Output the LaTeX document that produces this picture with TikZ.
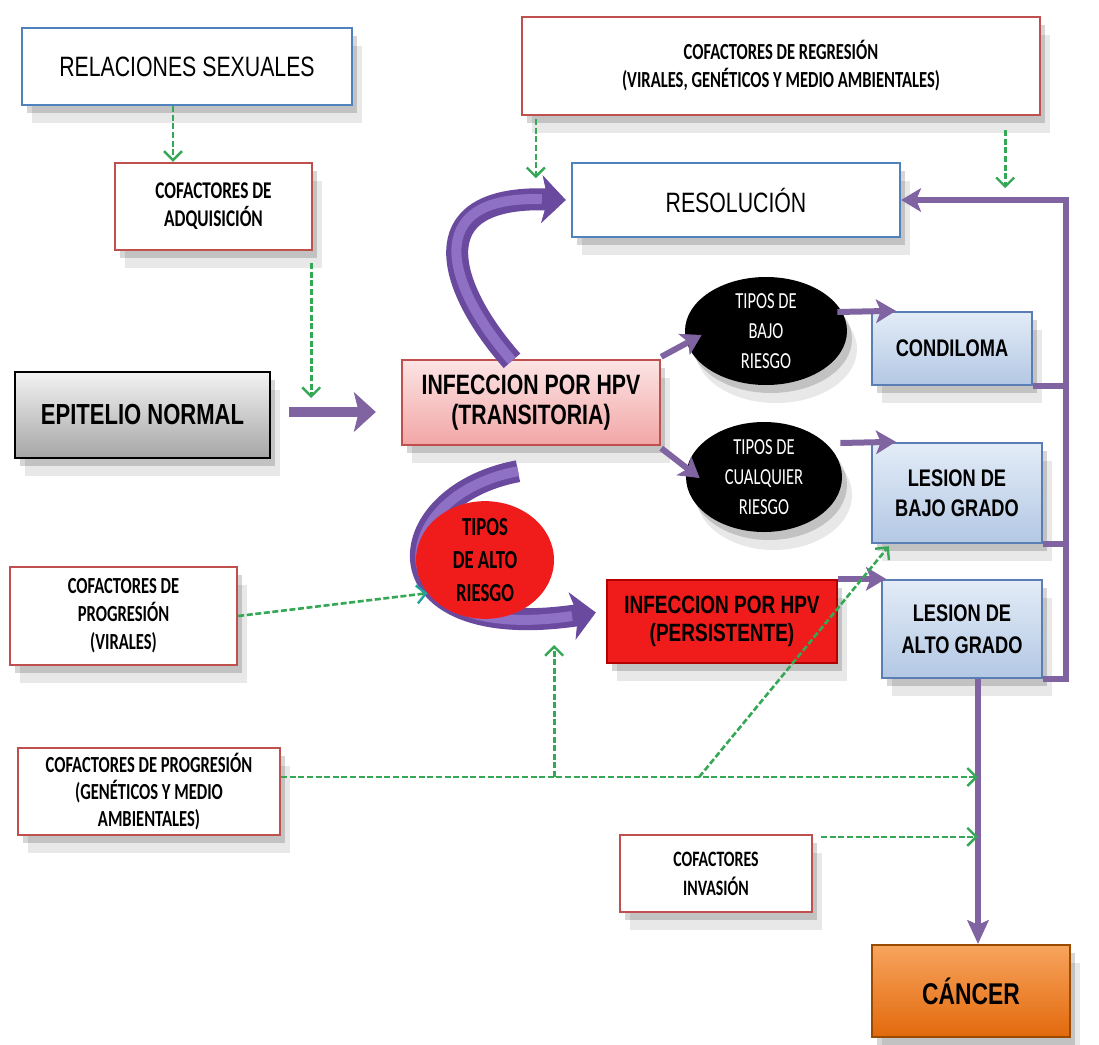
\documentclass[tikz,border=0pt]{standalone}
\usepackage{fontspec}
\setmainfont{Liberation Sans}
\newfontfamily\narrowfont[FakeStretch=0.76]{Liberation Sans}
\newfontfamily\calfont[FakeStretch=0.72]{Carlito}
\usetikzlibrary{arrows.meta,shapes.geometric,shadows,calc}
\definecolor{bborder}{HTML}{4F81BD}
\definecolor{rborder}{HTML}{C0504D}
\definecolor{gline}{HTML}{35A855}
\definecolor{gteal}{HTML}{1FA39A}
\definecolor{purp}{HTML}{8064A2}
\definecolor{purpdark}{HTML}{6A4A9E}
\definecolor{purplight}{HTML}{8E70C4}
\definecolor{pinktop}{HTML}{FCE4E4}
\definecolor{pinkbot}{HTML}{F2A6A6}
\definecolor{bluetop}{HTML}{E3ECF7}
\definecolor{bluebot}{HTML}{B3C8E4}
\definecolor{blueedge}{HTML}{5A7DB3}
\definecolor{redfill}{HTML}{F01C1C}
\definecolor{orangetop}{HTML}{F8A45E}
\definecolor{orangebot}{HTML}{E2690C}
\begin{document}
\begin{tikzpicture}[x=0.5pt,y=-0.5pt,
  shad/.style={drop shadow={shadow xshift=2.5pt,shadow yshift=-4pt,opacity=.16,fill=black},
               drop shadow={shadow xshift=5pt,shadow yshift=-9pt,opacity=.09,fill=black}},
  box/.style={draw, line width=1.2pt, inner sep=0pt, align=center, shad},
  bluebox/.style={box, draw=bborder, fill=white, font={\narrowfont\fontsize{14}{16}\selectfont}},
  redbox/.style={box, draw=rborder, fill=white, font={\calfont\bfseries\fontsize{11.5}{14}\selectfont}},
  lesbox/.style={box, draw=blueedge, top color=bluetop, bottom color=bluebot,
                 font={\narrowfont\bfseries\fontsize{12}{15}\selectfont}},
  blackdot/.style={ellipse, fill=black, inner sep=0pt, align=center, text=white, shad,
                 font={\calfont\fontsize{11.5}{15}\selectfont}},
  garrow/.style={draw=gline, line width=1.3pt, dash pattern=on 3pt off 1.3pt,
                 -{Straight Barb[length=4.5pt,width=9pt,line width=1.2pt]}},
  pline/.style={draw=purp, line width=3pt},
  parrow/.style={pline, -{Stealth[length=10pt,width=12pt,inset=2.5pt,line width=0.4pt]}},
  bigarrow/.style={draw=purp, line width=5pt, -{Stealth[length=11pt,width=20pt,inset=2.5pt,line width=0.4pt]}},
  bandout/.style={draw=purpdark, line width=11pt, -{Stealth[length=12pt,width=24pt,inset=3pt,line width=0.4pt]}},
  bandin/.style={draw=purplight, line width=5pt, shorten >=12pt}
]
\useasboundingbox (0,0) rectangle (1099,1045);
\fill[white] (0,0) rectangle (1099,1045);

% ---- boxes ----
\node[bluebox, minimum width=165pt, minimum height=38.5pt] (rel) at (187,66.5) {RELACIONES SEXUALES};
\node[redbox, minimum width=98.5pt, minimum height=43.5pt, font={\calfont\bfseries\fontsize{12}{14}\selectfont}] (adq) at (213.5,206.5) {COFACTORES DE\\ADQUISICIÓN};
\node[redbox, minimum width=259pt, minimum height=49pt] (reg) at (781,66) {COFACTORES DE REGRESIÓN\\(VIRALES, GENÉTICOS Y MEDIO AMBIENTALES)};
\node[bluebox, minimum width=164pt, minimum height=37pt] (res) at (736,200) {RESOLUCIÓN};
\node[box, draw=black, top color=black!5, bottom color=black!35, minimum width=127.5pt, minimum height=43pt,
      font={\narrowfont\bfseries\fontsize{14.5}{16}\selectfont}] (epi) at (142.5,415) {EPITELIO NORMAL};
\node[box, draw=rborder, top color=pinktop, bottom color=pinkbot, minimum width=129pt, minimum height=42.5pt,
      font={\narrowfont\bfseries\fontsize{14}{15}\selectfont}] (trans) at (531,402.5) {INFECCION POR HPV\\(TRANSITORIA)};
\node[blackdot, minimum width=81pt, minimum height=54pt] (bajo) at (766,331) {TIPOS DE\\BAJO\\RIESGO};
\node[blackdot, minimum width=78pt, minimum height=55pt] (cual) at (764,477) {TIPOS DE\\CUALQUIER\\RIESGO};
\node[lesbox, minimum width=80pt, minimum height=36.5pt] (cond) at (952,348.5) {CONDILOMA};
\node[lesbox, minimum width=85pt, minimum height=50pt] (lbajo) at (957,493) {LESION DE\\BAJO GRADO};
\node[lesbox, minimum width=80pt, minimum height=49pt, font={\narrowfont\bfseries\fontsize{12}{16}\selectfont}] (lalto) at (962,629) {LESION DE\\ALTO GRADO};
\node[box, draw=red!70!black, fill=redfill, minimum width=115pt, minimum height=41.5pt,
      font={\narrowfont\bfseries\fontsize{12.5}{14}\selectfont}] (pers) at (722,621.5) {INFECCION POR HPV\\(PERSISTENTE)};
\node[redbox, minimum width=113.5pt, minimum height=49pt] (vir) at (123.5,616) {COFACTORES DE\\PROGRESIÓN\\(VIRALES)};
\node[redbox, minimum width=131pt, minimum height=43.5pt, font={\calfont\bfseries\fontsize{11.5}{13.5}\selectfont}] (gen) at (149,791.5) {COFACTORES DE PROGRESIÓN\\(GENÉTICOS Y MEDIO\\AMBIENTALES)};
\node[redbox, minimum width=96pt, minimum height=38.5pt, font={\calfont\bfseries\fontsize{11}{14.5}\selectfont}] (inv) at (716,873.5) {COFACTORES\\INVASIÓN};
\node[box, draw=orange!60!black, top color=orangetop, bottom color=orangebot, minimum width=99pt, minimum height=46pt,
      font={\narrowfont\bfseries\fontsize{15}{16}\selectfont}] (cancer) at (971,991) {CÁNCER};

% ---- thick curved arrows ----
\draw[bandout] ($(trans.north)+(-19,2)$) .. controls +(-62,-70) and +(-150,-5) .. ($(res.west)+(-5,0)$);
\draw[bandin] ($(trans.north)+(-19,2)$) .. controls +(-62,-70) and +(-150,-5) .. ($(res.west)+(-5,0)$);
\draw[bandout] ($(trans.south)+(-13,25)$) .. controls +(-133,25) and +(-222,33) .. ($(pers.west)+(-10,-9)$);
\draw[bandin] ($(trans.south)+(-13,25)$) .. controls +(-133,25) and +(-222,33) .. ($(pers.west)+(-10,-9)$);

\node[ellipse, fill=redfill, inner sep=0pt, minimum width=69pt, minimum height=57pt, align=center,
      font={\calfont\bfseries\fontsize{13}{16.5}\selectfont}] (alto) at (485,560) {TIPOS\\DE ALTO\\RIESGO};

% ---- purple connectors ----
\draw[bigarrow] ($(epi.east)+(18,-3)$) -- ($(trans.west)+(-25,9.5)$);
\draw[parrow] ($(trans.north east)+(0,-2)$) -- ($(bajo.west)+(17,4)$);
\draw[parrow] ($(trans.south east)+(0,2)$) -- ($(cual.west)+(14,1)$);
\draw[parrow] ($(bajo.east)+(-10,-19)$) -- ($(cond.north west)+(25,0)$);
\draw[parrow] ($(cual.east)+(-2,-34)$) -- ($(lbajo.north west)+(25,0)$);
\draw[parrow] (pers.north east) -- ($(lalto.north west)+(5,0)$);
\coordinate (bus) at ($(res.east)+(165,0)$);
\draw[parrow] (lalto.south east) -| (bus) -- (res.east);
\draw[pline] (cond.south east) -- (cond.south east -| bus);
\draw[pline] (lbajo.south east) -- (lbajo.south east -| bus);
\coordinate (cl) at ($(lalto.south)+(16,0)$);
\draw[parrow, -{Stealth[length=12pt,width=11pt,inset=2.5pt,line width=0.4pt]}] (cl) -- (cl |- cancer.north);

% ---- green dashed connectors ----
\draw[garrow] ($(rel.south)+(-14,0)$) -- ($(adq.north)+(-40.5,0)$);
\coordinate (gadq) at ($(epi.east)+(40,-17)$);
\draw[garrow] ($(adq.south east)+(-2,12)$) -- (gadq);
\coordinate (gregl) at ($(reg.south west)+(15,62)$);
\draw[garrow] ($(reg.south west)+(15,3)$) -- (gregl);
\coordinate (gregr) at ($(reg.south east)+(-36,72)$);
\draw[garrow] ($(reg.south east)+(-36,14)$) -- (gregr);
\draw[garrow, -{Straight Barb[length=4.5pt,width=9pt,line width=1.2pt,color=gteal]}] (vir.east) -- (alto.210);
\coordinate (gs) at ($(gen.east)+(0,-14.5)$);
\draw[garrow] (gs) -- (cl |- gs);
\coordinate (gv) at ($(gs)+(273,0)$);
\coordinate (gvt) at ($(pers.west)+(-54,23.5)$);
\draw[garrow] (gv) -- (gv |- gvt);
\coordinate (gd) at ($(gs)+(418,0)$);
\draw[garrow] (gd) -- ($(lbajo.south west)+(18,2)$);
\coordinate (gi) at ($(inv.north east)+(8,3)$);
\draw[garrow] (gi) -- (cl |- gi);
\end{tikzpicture}
\end{document}
